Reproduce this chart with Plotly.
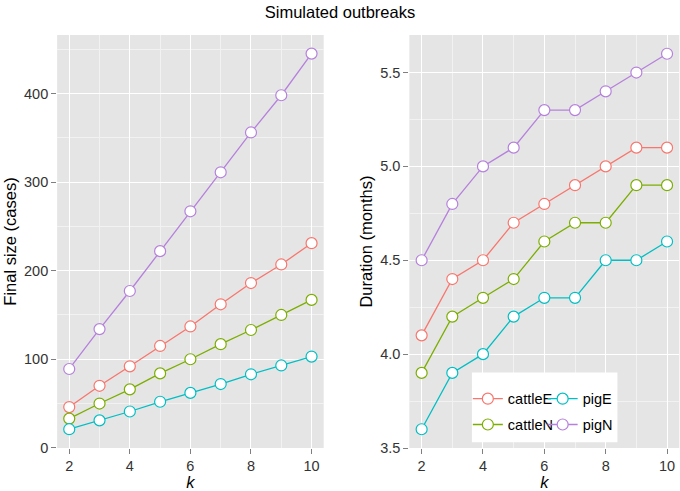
import plotly.graph_objects as go
from plotly.subplots import make_subplots

# k values on the x axis
k = [2, 3, 4, 5, 6, 7, 8, 9, 10]

# final outbreak size (cases)
size_cattleE = [46, 70, 92, 115, 137, 162, 186, 207, 231]
size_cattleN = [33, 50, 66, 84, 100, 117, 133, 150, 167]
size_pigE = [21, 31, 41, 52, 62, 72, 83, 93, 103]
size_pigN = [89, 134, 177, 222, 267, 311, 356, 398, 445]

# outbreak duration (months)
dur_cattleE = [4.1, 4.4, 4.5, 4.7, 4.8, 4.9, 5.0, 5.1, 5.1]
dur_cattleN = [3.9, 4.2, 4.3, 4.4, 4.6, 4.7, 4.7, 4.9, 4.9]
dur_pigE = [3.6, 3.9, 4.0, 4.2, 4.3, 4.3, 4.5, 4.5, 4.6]
dur_pigN = [4.5, 4.8, 5.0, 5.1, 5.3, 5.3, 5.4, 5.5, 5.6]

series = ["cattleE", "cattleN", "pigE", "pigN"]
colors = {"cattleE": "#F8766D", "cattleN": "#7CAE00",
          "pigE": "#00BFC4", "pigN": "#B681DC"}
sizes = {"cattleE": size_cattleE, "cattleN": size_cattleN,
         "pigE": size_pigE, "pigN": size_pigN}
durations = {"cattleE": dur_cattleE, "cattleN": dur_cattleN,
             "pigE": dur_pigE, "pigN": dur_pigN}
# two legend columns, like the ggplot key
legend_of = {"cattleE": "legend", "cattleN": "legend",
             "pigE": "legend2", "pigN": "legend2"}

FONT = "Liberation Sans, Arial, Helvetica, sans-serif"
TEXT = "#333333"

fig = make_subplots(rows=1, cols=2)

for name in series:
    style = dict(
        mode="lines+markers",
        line=dict(color=colors[name], width=1.3),
        marker=dict(symbol="circle", size=11, color="white",
                    line=dict(color=colors[name], width=1.2)),
    )
    fig.add_trace(go.Scatter(x=k, y=sizes[name], name=name,
                             showlegend=False, **style), row=1, col=1)
    fig.add_trace(go.Scatter(x=k, y=durations[name], name=name,
                             legend=legend_of[name], legendgroup=name,
                             **style), row=1, col=2)

axis_common = dict(
    showgrid=True, gridcolor="white", gridwidth=1.1,
    zeroline=False, showline=False,
    ticks="outside", ticklen=5, tickwidth=1, tickcolor="#7F7F7F",
    tickfont=dict(family=FONT, size=14.5, color=TEXT),
    title_font=dict(family=FONT, size=16.5, color="black"),
)

x_common = dict(axis_common, range=[1.6, 10.4], tick0=2, dtick=2,
                minor=dict(dtick=1, tick0=2, showgrid=True,
                           gridcolor="#F2F2F2", gridwidth=0.6, ticks=""),
                title=dict(text="<i>k</i>"))

fig.update_xaxes(x_common, domain=[0.084, 0.476], automargin=False, row=1, col=1)
fig.update_xaxes(x_common, domain=[0.602, 0.999], automargin=False, row=1, col=2)

fig.update_yaxes(axis_common, range=[-0.2, 466], tick0=0, dtick=100,
                 minor=dict(dtick=50, tick0=0, showgrid=True,
                            gridcolor="#F2F2F2", gridwidth=0.6, ticks=""),
                 title=dict(text="Final size (cases)", standoff=3),
                 automargin=False, row=1, col=1)
fig.update_yaxes(axis_common, range=[3.5, 5.7], tick0=3.5, dtick=0.5,
                 tickformat=".1f",
                 minor=dict(dtick=0.25, tick0=3.5, showgrid=True,
                            gridcolor="#F2F2F2", gridwidth=0.6, ticks=""),
                 title=dict(text="Duration (months)", standoff=3),
                 automargin=False, row=1, col=2)

legend_common = dict(
    bgcolor="rgba(0,0,0,0)", borderwidth=0,
    font=dict(family=FONT, size=14.5, color="black"),
    yanchor="top", y=0.158, xanchor="left",
    itemwidth=30, traceorder="grouped", tracegroupgap=4,
)

fig.update_layout(
    width=680, height=491,
    margin=dict(l=0, r=0, t=35, b=43),
    paper_bgcolor="white",
    plot_bgcolor="#E5E5E5",
    font=dict(family=FONT, color=TEXT),
    title=dict(text="Simulated outbreaks", x=0.5, xanchor="center",
               y=0.975, yanchor="middle",
               font=dict(family=FONT, size=16.5, color="black")),
    legend=dict(legend_common, x=0.688),
    legend2=dict(legend_common, x=0.798),
    shapes=[dict(type="rect", xref="paper", yref="paper",
                 x0=0.694, x1=0.908, y0=0.014, y1=0.183,
                 fillcolor="white", line=dict(width=0), layer="above")],
)

# the page's default body margin would shift the figure by 8px
fig.write_html("out.html", config={"displayModeBar": False},
               post_script="document.body.style.margin='0';")
